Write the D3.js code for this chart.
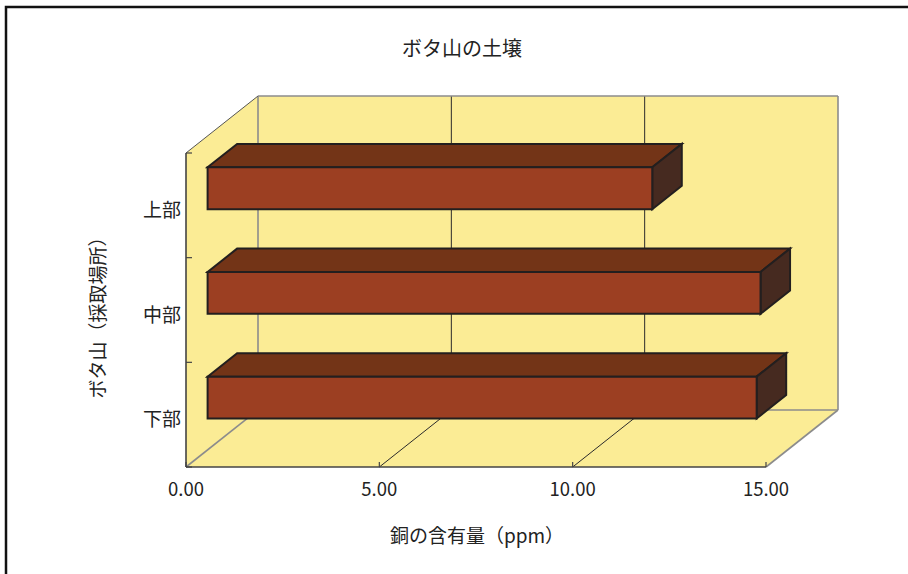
<!DOCTYPE html>
<html>
<head>
<meta charset="utf-8">
<script src="https://cdn.jsdelivr.net/npm/d3@7"></script>
<style>
  html, body { margin: 0; padding: 0; background: #fff; }
  svg { display: block; }
  text { font-family: "Noto Sans CJK JP", "Noto Sans", sans-serif; fill: #222; }
</style>
</head>
<body>
<svg id="chart" width="908" height="574"></svg>
<script>
// Copper content of the soil at each sampling spot
const categories = ["上部", "中部", "下部"];
const copper = [11.5, 14.3, 14.2];
const xTicks = [0, 5, 10, 15];
const xTickLabels = ["0.00", "5.00", "10.00", "15.00"];
const title = "ボタ山の土壌";
const xTitle = "銅の含有量（ppm）";
const yTitle = "ボタ山（採取場所）";

const svg = d3.select("#chart");

// Front plane of the 3-D box and its depth offset
const front = { left: 186, right: 766, top: 153, bottom: 467 };
const depth = { dx: 72, dy: -57 };
const barZ = [0.3, 0.71]; // bars sit in the middle of the depth

const x = d3.scaleLinear().domain([0, 15]).range([front.left, front.right]);
const y = d3.scaleBand().domain(categories).range([front.top, front.bottom])
  .paddingInner(0.6).paddingOuter(0.3);

const proj = (px, py, z) => [px + z * depth.dx, py + z * depth.dy];
const poly = pts => pts.map(p => p.join(",")).join(" ");

const wallFill = "#fbec95";
const edgeGrey = "#8c8c8c";

// Outer frame
svg.append("rect").attr("x", 6).attr("y", 7).attr("width", 960).attr("height", 620)
  .attr("fill", "none").attr("stroke", "#111").attr("stroke-width", 2.5);

// Title
svg.append("text").attr("x", 462).attr("y", 56).attr("text-anchor", "middle")
  .attr("font-size", 20).text(title);

const walls = svg.append("g");
const x0 = x(0), x1 = x(15);
// left wall
walls.append("polygon")
  .attr("points", poly([proj(x0, front.top, 0), proj(x0, front.top, 1), proj(x0, front.bottom, 1), proj(x0, front.bottom, 0)]))
  .attr("fill", wallFill).attr("stroke", "none");
// back wall
walls.append("polygon")
  .attr("points", poly([proj(x0, front.top, 1), proj(x1, front.top, 1), proj(x1, front.bottom, 1), proj(x0, front.bottom, 1)]))
  .attr("fill", wallFill).attr("stroke", "none");
// floor
walls.append("polygon")
  .attr("points", poly([proj(x0, front.bottom, 0), proj(x1, front.bottom, 0), proj(x1, front.bottom, 1), proj(x0, front.bottom, 1)]))
  .attr("fill", wallFill).attr("stroke", "none");

// Gridlines on back wall and floor
xTicks.forEach(t => {
  const isEdge = (t === 0 || t === 15);
  const col = isEdge ? edgeGrey : "#2b2b2b";
  const w = isEdge ? 1.6 : 1;
  const b0 = proj(x(t), front.top, 1), b1 = proj(x(t), front.bottom, 1);
  walls.append("line").attr("x1", b0[0]).attr("y1", b0[1]).attr("x2", b1[0]).attr("y2", b1[1])
    .attr("stroke", col).attr("stroke-width", w);
  const f0 = proj(x(t), front.bottom, 0);
  walls.append("line").attr("x1", f0[0]).attr("y1", f0[1]).attr("x2", b1[0]).attr("y2", b1[1])
    .attr("stroke", col).attr("stroke-width", w);
});
// back wall top edge and floor back edge
[[proj(x0, front.top, 1), proj(x1, front.top, 1)],
 [proj(x0, front.bottom, 1), proj(x1, front.bottom, 1)]].forEach(([a, b]) => {
  walls.append("line").attr("x1", a[0]).attr("y1", a[1]).attr("x2", b[0]).attr("y2", b[1])
    .attr("stroke", edgeGrey).attr("stroke-width", 1.6);
});
// left wall top edge
{
  const a = proj(x0, front.top, 0), b = proj(x0, front.top, 1);
  walls.append("line").attr("x1", a[0]).attr("y1", a[1]).attr("x2", b[0]).attr("y2", b[1])
    .attr("stroke", "#555").attr("stroke-width", 1);
}

// Bars
const bars = svg.append("g").attr("stroke", "#231f1f").attr("stroke-width", 2)
  .attr("stroke-linejoin", "miter");
categories.forEach((c, i) => {
  const xa = x(0), xb = x(copper[i]);
  const ya = y(c), yb = y(c) + y.bandwidth();
  const [z0, z1] = barZ;
  // top face
  bars.append("polygon")
    .attr("points", poly([proj(xa, ya, z0), proj(xb, ya, z0), proj(xb, ya, z1), proj(xa, ya, z1)]))
    .attr("fill", "#733417");
  // end face
  bars.append("polygon")
    .attr("points", poly([proj(xb, ya, z0), proj(xb, ya, z1), proj(xb, yb, z1), proj(xb, yb, z0)]))
    .attr("fill", "#462a20");
  // front face
  bars.append("polygon")
    .attr("points", poly([proj(xa, ya, z0), proj(xb, ya, z0), proj(xb, yb, z0), proj(xa, yb, z0)]))
    .attr("fill", "#9c3f22");
});

// Axes
const axes = svg.append("g").attr("stroke", "#444").attr("stroke-width", 1.6);
axes.append("line").attr("x1", x0).attr("y1", front.top).attr("x2", x0).attr("y2", front.bottom);
axes.append("line").attr("x1", x0).attr("y1", front.bottom).attr("x2", x1).attr("y2", front.bottom);
// category boundary ticks
const boundaries = [front.top].concat(categories.map(c => y(c) + y.bandwidth() + y.step() * y.paddingInner() / 2));
boundaries[boundaries.length - 1] = front.bottom;
boundaries.forEach(b => {
  axes.append("line").attr("x1", x0).attr("y1", b).attr("x2", x0 + 6).attr("y2", b).attr("stroke-width", 1.2);
});
xTicks.forEach(t => {
  axes.append("line").attr("x1", x(t)).attr("y1", front.bottom).attr("x2", x(t)).attr("y2", front.bottom - 5)
    .attr("stroke-width", 1.2);
});

// Tick labels
xTicks.forEach((t, i) => {
  svg.append("text").attr("x", x(t)).attr("y", 496).attr("text-anchor", "middle")
    .attr("font-size", 18.5).text(xTickLabels[i]);
});
categories.forEach(c => {
  svg.append("text").attr("x", 181).attr("y", y(c) + y.bandwidth() / 2 + 3)
    .attr("text-anchor", "end").attr("dominant-baseline", "central")
    .attr("font-size", 19).text(c);
});

// Axis titles
svg.append("text").attr("x", 477).attr("y", 543).attr("text-anchor", "middle")
  .attr("font-size", 19).text(xTitle);
svg.append("text").attr("transform", "translate(96,313) rotate(-90)")
  .attr("text-anchor", "middle").attr("dominant-baseline", "central")
  .attr("font-size", 19).text(yTitle);
</script>
</body>
</html>
